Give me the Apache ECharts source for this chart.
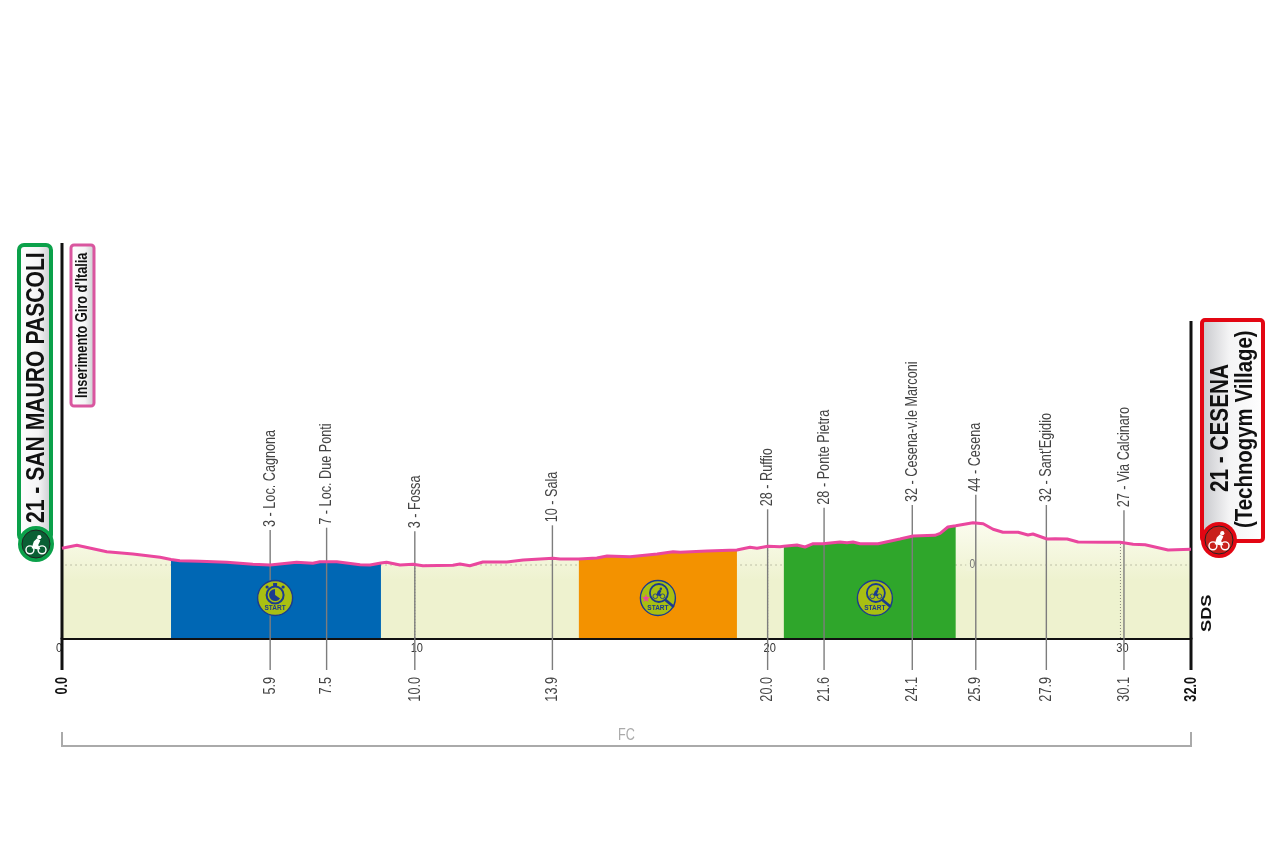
<!doctype html>
<html>
<head>
<meta charset="utf-8">
<title>Stage profile</title>
<script src="https://cdn.jsdelivr.net/npm/echarts@6/dist/echarts.min.js"></script>
<style>
html,body{margin:0;padding:0;background:#fff}
#main{width:1280px;height:852px}
</style>
</head>
<body>
<div id="main"></div>
<script>
// profile
var profileKm = [0,0.42,1.27,2.01,2.78,3.09,3.34,3.91,4.67,5.41,5.9,6.65,7.11,7.31,7.79,8.45,8.73,9.04,9.2,9.58,9.95,10.23,11.08,11.28,11.56,11.93,12.61,13.07,13.92,14.12,14.65,15.16,15.45,16.1,16.87,17.32,17.52,18.28,19.13,19.5,19.7,20.01,20.35,20.46,20.83,21.06,21.29,21.57,22.05,22.25,22.42,22.62,23.13,23.75,24.12,24.74,24.89,25.11,25.33,25.82,26.11,26.39,26.67,27.1,27.38,27.52,27.92,28.15,28.49,28.8,29.56,29.99,30.36,30.7,31.35,32];
var profileAlt = [16.7,19.7,13.3,11,7.7,5.5,4.3,3.7,2.7,0.7,0,2.7,1.7,3.3,3.3,0.3,0,2,2.7,0,0.7,-0.7,-0.3,1,-0.7,3,3,5,6.7,6,6,7,9,8.3,11,13.3,12.7,14,15,17.7,16.7,18.7,18.3,18.7,20,18,21.3,21.3,23,22.3,23,21.3,21.3,26,29,29.7,31.7,38,39.3,42.3,41.3,35.7,32.7,32.7,30,31,26,26.3,26,23,22.7,22.7,20.7,20.3,15,15.7];

var stopKm = [5.9,7.5,10.0,13.9,20.0,21.6,24.1,25.9,27.9,30.1];
var stopNames = ['3 - Loc. Cagnona','7 - Loc. Due Ponti','3 - Fossa','10 - Sala','28 - Ruffio','28 - Ponte Pietra','32 - Cesena-v.le Marconi','44 - Cesena','32 - Sant\'Egidio','27 - Via Calcinaro'];

var bandStart = [3.09,14.65,20.46];
var bandEnd = [9.04,19.13,25.33];
var bandColors = ['#0067b4','#f39200','#2fa62b'];

var startIconKm = [6.04,16.89,23.04];
var startIconKind = ['clock','star','lens'];

var kmTicks = [0,10,20,30];
var routeEnds = [0,32];
var regionName = 'FC';

// hand placed bits of the layout, in axis units (1 unit = 1px on y)
var BASE = -73, Y_MIN = -187, Y_MAX = 322;
var leaderLift = [35,34,33,33,37,36,31,28,34,32];
var PINK = '#ea479e', NAVY = '#1b3b8f', LIME = '#a9bf12';
var sans = '"Liberation Sans",Arial,sans-serif';
var SQUEEZE = 0.745;

function pts(from, to){
	var out = [];
	profileKm.forEach(function(k, i){
		if(k >= from && k <= to) out.push([k, profileAlt[i]]);
	});
	return out;
}

function altAt(km){
	// nearest reading on the profile
	var best = 0;
	profileKm.forEach(function(k, i){
		if(Math.abs(k - km) < Math.abs(profileKm[best] - km)) best = i;
	});
	return profileAlt[best];
}

var series = [];

// cream ground under the whole profile
series.push({
	type: 'line', data: pts(0, 32), symbol: 'none', silent: true, z: 1,
	lineStyle: {width: 0},
	areaStyle: {
		origin: BASE, opacity: 1,
		color: new echarts.graphic.LinearGradient(0, 0, 0, 1, [
			{offset: 0, color: '#fbfcef'},
			{offset: 0.5, color: '#eef2cf'},
			{offset: 1, color: '#eef2cf'}
		])
	}
});

// dotted zero level with its small label
series.push({
	type: 'custom', coordinateSystem: 'cartesian2d', data: [[25.8, 0]], z: 2, silent: true,
	renderItem: function(params, api){
		var a = api.coord([0.1, 0]), b = api.coord([32, 0]), c = api.coord([25.8, 0]);
		return {type: 'group', children: [
			{type: 'line', shape: {x1: a[0], y1: a[1], x2: b[0], y2: b[1]},
				style: {stroke: '#8d8f78', lineWidth: 1, lineDash: [1, 4]}},
			{type: 'rect', shape: {x: c[0] - 6, y: c[1] - 6, width: 12, height: 12}, style: {fill: '#f1f4d8'}},
			{type: 'text', x: c[0], y: c[1], style: {text: '0', fill: '#777', font: '12px ' + sans, align: 'center', verticalAlign: 'middle'}, scaleX: 0.85}
		]};
	}
});

// km ticks: dotted from the baseline up to the profile, number under the baseline
series.push({
	type: 'custom', coordinateSystem: 'cartesian2d', data: kmTicks.map(function(k){ return [k, altAt(k)]; }), z: 2, silent: true,
	renderItem: function(params, api){
		var km = api.value(0);
		var a = api.coord([km, BASE]), b = api.coord([km, api.value(1)]), c = api.coord([km, -83]);
		var kids = [{type: 'text', x: c[0] + (km === 0 ? -3 : 2), y: c[1], scaleX: 0.85,
			style: {text: String(km), fill: '#333', font: '13px ' + sans, align: 'center', verticalAlign: 'middle'}}];
		if(km > 0) kids.push({type: 'line', shape: {x1: a[0], y1: a[1], x2: b[0], y2: b[1]},
			style: {stroke: '#8a8a80', lineWidth: 1, lineDash: [1, 2]}});
		return {type: 'group', children: kids};
	}
});

// coloured sectors
bandStart.forEach(function(s, i){
	series.push({
		type: 'line', data: pts(s, bandEnd[i]), symbol: 'none', silent: true, z: 3,
		lineStyle: {width: 0},
		areaStyle: {origin: BASE, opacity: 1, color: bandColors[i]}
	});
});

// place names, leader lines and km labels
series.push({
	type: 'custom', coordinateSystem: 'cartesian2d', z: 4, silent: true,
	data: stopKm.map(function(k, i){ return [k, altAt(k) + leaderLift[i], i]; }),
	renderItem: function(params, api){
		var km = api.value(0), i = api.value(2);
		var a = api.coord([km, api.value(1)]), b = api.coord([km, -105]), c = api.coord([km, -112]);
		return {type: 'group', children: [
			{type: 'line', shape: {x1: a[0], y1: a[1], x2: b[0], y2: b[1]}, style: {stroke: '#7d7d7d', lineWidth: 1.4}},
			{type: 'text', x: a[0], y: a[1] - 3, rotation: Math.PI / 2, scaleX: SQUEEZE,
				style: {text: stopNames[i], fill: '#444', font: '17px ' + sans, align: 'left', verticalAlign: 'middle'}},
			{type: 'text', x: c[0], y: c[1], rotation: Math.PI / 2, scaleX: SQUEEZE,
				style: {text: km.toFixed(1), fill: '#444', font: '17px ' + sans, align: 'right', verticalAlign: 'middle'}}
		]};
	}
});

// heavy start and finish uprights
series.push({
	type: 'custom', coordinateSystem: 'cartesian2d', z: 5, silent: true,
	data: [[routeEnds[0], Y_MAX], [routeEnds[1], 244]],
	renderItem: function(params, api){
		var km = api.value(0);
		var a = api.coord([km, api.value(1)]), b = api.coord([km, -105]), c = api.coord([km, -112]);
		return {type: 'group', children: [
			{type: 'line', shape: {x1: a[0], y1: a[1], x2: b[0], y2: b[1]}, style: {stroke: '#111', lineWidth: 3}},
			{type: 'text', x: c[0], y: c[1], rotation: Math.PI / 2, scaleX: SQUEEZE,
				style: {text: km.toFixed(1), fill: '#111', font: 'bold 17px ' + sans, align: 'right', verticalAlign: 'middle'}}
		]};
	}
});

// region bracket under the chart
series.push({
	type: 'custom', coordinateSystem: 'cartesian2d', z: 5, silent: true, data: [[routeEnds[0], routeEnds[1]]],
	renderItem: function(params, api){
		var a = api.coord([api.value(0), -167]), b = api.coord([api.value(0), -181]);
		var c = api.coord([api.value(1), -181]), d = api.coord([api.value(1), -167]);
		var m = api.coord([(api.value(0) + api.value(1)) / 2, -170]);
		return {type: 'group', children: [
			{type: 'polyline', shape: {points: [a, b, c, d]}, style: {stroke: '#aaa', lineWidth: 2, fill: null}},
			{type: 'text', x: m[0], y: m[1], scaleX: SQUEEZE,
				style: {text: regionName, fill: '#aaa', font: '17px ' + sans, align: 'center', verticalAlign: 'middle'}}
		]};
	}
});

// pink profile line
series.push({
	type: 'line', data: pts(0, 32), symbol: 'none', silent: true, z: 6,
	lineStyle: {color: PINK, width: 3}
});

function rider(cx, cy, s, color){
	return [
		{type: 'circle', shape: {cx: cx - 5.5 * s, cy: cy + 3.5 * s, r: 3.6 * s}, style: {fill: null, stroke: color, lineWidth: 1.3 * s}},
		{type: 'circle', shape: {cx: cx + 5.5 * s, cy: cy + 3.5 * s, r: 3.6 * s}, style: {fill: null, stroke: color, lineWidth: 1.3 * s}},
		{type: 'polygon', shape: {points: [[cx - 4 * s, cy + 2 * s], [cx - 2 * s, cy - 4 * s], [cx + 1 * s, cy - 7 * s], [cx + 4 * s, cy - 5 * s], [cx + 2 * s, cy - 1 * s], [cx + 4 * s, cy + 3 * s], [cx + 1 * s, cy + 3 * s]]}, style: {fill: color}},
		{type: 'circle', shape: {cx: cx + 3 * s, cy: cy - 8 * s, r: 1.9 * s}, style: {fill: color}}
	];
}

// round START badges on the sectors
series.push({
	type: 'custom', coordinateSystem: 'cartesian2d', z: 7, silent: true,
	data: startIconKm.map(function(k, i){ return [k, -33, i]; }),
	renderItem: function(params, api){
		var p = api.coord([api.value(0), api.value(1)]), x = p[0], y = p[1];
		var kind = startIconKind[api.value(2)];
		var kids = [
			{type: 'circle', shape: {cx: x, cy: y, r: 17.5}, style: {fill: LIME, stroke: NAVY, lineWidth: 1.4}},
			{type: 'text', x: x, y: y + 10.5, style: {text: 'START', fill: NAVY, font: 'bold 6.5px ' + sans, align: 'center', verticalAlign: 'middle'}}
		];
		if(kind === 'clock'){
			kids.push({type: 'circle', shape: {cx: x, cy: y - 3, r: 8.5}, style: {fill: LIME, stroke: NAVY, lineWidth: 2}});
			kids.push({type: 'sector', shape: {cx: x, cy: y - 3, r0: 0, r: 6, startAngle: 0.6, endAngle: 4.7}, style: {fill: NAVY}});
			kids.push({type: 'rect', shape: {x: x - 2, y: y - 15, width: 4, height: 3}, style: {fill: NAVY}});
			kids.push({type: 'circle', shape: {cx: x - 8, cy: y - 11, r: 1.6}, style: {fill: NAVY}});
			kids.push({type: 'circle', shape: {cx: x + 8, cy: y - 11, r: 1.6}, style: {fill: NAVY}});
		}else{
			var ox = x + 1;
			kids.push({type: 'circle', shape: {cx: ox, cy: y - 5, r: 9}, style: {fill: LIME, stroke: NAVY, lineWidth: 1.8}});
			kids.push({type: 'line', shape: {x1: ox + 6, y1: y + 1.5, x2: ox + 15, y2: y + 9}, style: {stroke: NAVY, lineWidth: 2.8}});
			kids = kids.concat(rider(ox, y - 4, 0.65, NAVY));
			if(kind === 'star'){
				kids.push({type: 'text', x: x - 12, y: y + 1, style: {text: '★', fill: PINK, font: '11px "DejaVu Sans",sans-serif', align: 'center', verticalAlign: 'middle'}});
			}
		}
		return {type: 'group', children: kids};
	}
});

// box fills, shaded on one side
function shade(greyLeft){
	return new echarts.graphic.LinearGradient(0, 0, 1, 0, greyLeft ? [
		{offset: 0, color: '#c4c5c9'},
		{offset: 0.45, color: '#f4f4f5'},
		{offset: 1, color: '#ffffff'}
	] : [
		{offset: 0, color: '#ffffff'},
		{offset: 0.6, color: '#f4f4f5'},
		{offset: 1, color: '#c4c5c9'}
	]);
}

function upText(x, y, text, font, squeeze){
	return {type: 'text', x: x, y: y, rotation: Math.PI / 2, scaleX: squeeze, z: 20,
		style: {text: text, fill: '#111', font: font, align: 'left', verticalAlign: 'middle'}};
}

function badge(cx, cy, ring, inner){
	return [
		{type: 'circle', z: 21, shape: {cx: cx, cy: cy, r: 18}, style: {fill: ring}},
		{type: 'circle', z: 21, shape: {cx: cx, cy: cy, r: 14}, style: {fill: inner, stroke: '#222', lineWidth: 1}}
	].concat(rider(cx, cy + 2, 1.1, '#fff').map(function(e){ e.z = 22; return e; }));
}

var boldHead = 'bold 25px ' + sans;

var graphics = [
	{type: 'rect', z: 19, shape: {x: 19, y: 245, width: 32, height: 295, r: 5},
		style: {fill: shade(false), stroke: '#0ba14a', lineWidth: 4}},
	upText(37, 523, '21 - SAN MAURO PASCOLI', boldHead, 0.845),
	{type: 'rect', z: 19, shape: {x: 71, y: 245, width: 23, height: 161, r: 3},
		style: {fill: shade(false), stroke: '#d9569f', lineWidth: 3}},
	upText(82, 398, 'Inserimento Giro d\'Italia', 'bold 17px ' + sans, 0.75),
	{type: 'rect', z: 19, shape: {x: 1202, y: 320, width: 61, height: 221, r: 3},
		style: {fill: shade(true), stroke: '#e30613', lineWidth: 4}},
	upText(1221, 492, '21 - CESENA', boldHead, 0.83),
	upText(1245, 528, '(Technogym Village)', 'bold 24px ' + sans, 0.85),
	upText(1207, 632, 'SDS', 'bold 14px ' + sans, 1.3)
].concat(badge(36, 544, '#0ba14a', '#0a5f34'), badge(1219, 540, '#e30613', '#c9201a'));

var chart = echarts.init(document.getElementById('main'), null, {renderer: 'canvas'});
chart.setOption({
	animation: false,
	backgroundColor: '#fff',
	grid: {left: 62, right: 89, top: 243, bottom: 100},
	xAxis: {
		type: 'value', min: 0, max: 32, interval: 10, position: 'bottom', offset: BASE - Y_MIN - 228,
		splitLine: {show: false}, axisTick: {show: false},
		axisLine: {onZero: false, lineStyle: {color: '#111', width: 3}},
		axisLabel: {show: false}
	},
	yAxis: {type: 'value', min: Y_MIN, max: Y_MAX, show: false},
	series: series,
	graphic: graphics
});
</script>
</body>
</html>
